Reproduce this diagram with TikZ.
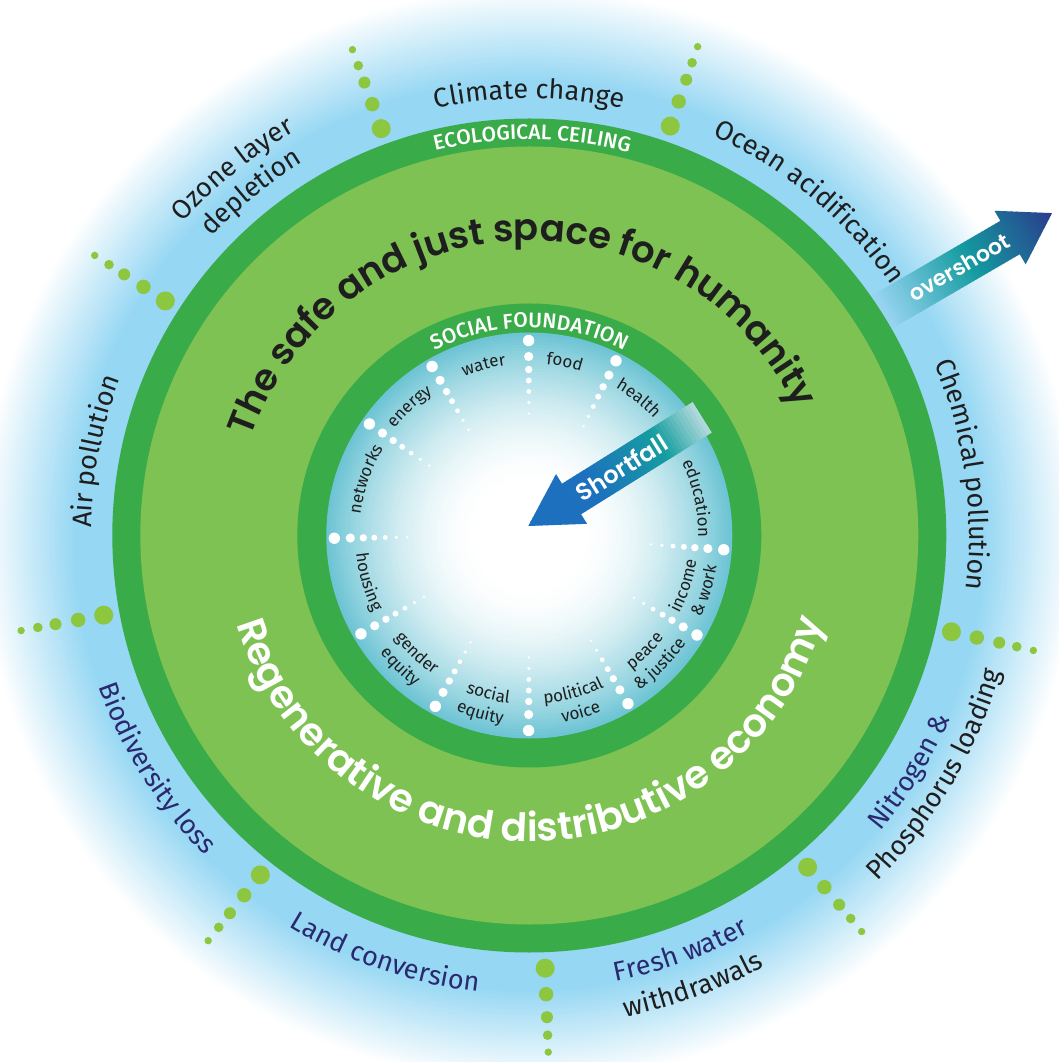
\documentclass[tikz,border=0pt]{standalone}
\usepackage{fontspec}
\setmainfont{Fira Sans}
\newfontfamily\pop{Poppins}[UprightFont=* SemiBold]
\newfontfamily\firam{Fira Sans}[UprightFont=* Medium]
\usetikzlibrary{decorations.text}
\definecolor{ringdark}{RGB}{58,171,73}
\definecolor{ringlight}{RGB}{125,194,82}
\definecolor{dotgreen}{RGB}{141,198,63}
\definecolor{glowc}{RGB}{150,215,243}
\definecolor{diskc}{RGB}{108,196,212}
\definecolor{navy}{RGB}{42,40,110}
\definecolor{txt}{RGB}{30,30,30}
\definecolor{oa}{RGB}{150,212,240}
\definecolor{ob}{RGB}{20,155,160}
\definecolor{oc}{RGB}{42,58,140}
\definecolor{sa}{RGB}{28,112,190}
\definecolor{sb}{RGB}{22,158,160}
\definecolor{sl}{RGB}{190,222,224}
\newcommand\lbl{\color{txt}\fontsize{27}{27}\selectfont}
\newcommand\lbln{\color{navy}\fontsize{27}{27}\selectfont}
\newcommand\ilbl{\color{txt}\fontsize{17}{17}\selectfont}
\newcommand\fsafe{\color{txt}\pop\fontsize{37}{37}\selectfont}
\newcommand\freg{\color{white}\pop\fontsize{39}{39}\selectfont}
\newcommand\fcap{\color{white}\firam\fontsize{21}{21}\selectfont}
% text on a clockwise arc (letters point outward)
\newcommand\cwtext[4]{%
  \path[decorate,decoration={text along path,text align=center,text={|#3|#4}}]
    ({#2+88}:#1) arc[start angle={#2+88},end angle={#2-88},radius=#1];}
% text on a counter-clockwise arc (letters point inward)
\newcommand\ccwtext[4]{%
  \path[decorate,decoration={text along path,text align=center,text={|#3|#4}}]
    ({#2-88}:#1) arc[start angle={#2-88},end angle={#2+88},radius=#1];}
\begin{document}
\begin{tikzpicture}[x=1pt,y=1pt]
\clip (-529.3,-526.5) rectangle (529.7,535.5);
\fill[white] (-529.3,-526.5) rectangle (529.7,535.5);
% blue glow
\foreach \r in {549,546,...,456}{%
  \pgfmathtruncatemacro\p{100*(549-\r)/93}%
  \fill[glowc!\p!white] (0,0) circle[radius=\r];}
\fill[glowc] (0,0) circle[radius=455];
% overshoot arrow
\begin{scope}[shift={(353.7,224)},rotate=30.2]
  \begin{scope}
    \clip (-15,-19.3) -- (147,-19.3) -- (147,-31) -- (195.6,0) -- (147,31) -- (147,19.3) -- (-15,19.3) -- cycle;
    \foreach \i in {0,...,53}{%
      \pgfmathsetmacro\xx{-15+4*\i}%
      \pgfmathsetmacro\t{max(0,min(1,\xx/195.6))}%
      \ifdim\t pt<0.5pt
        \pgfmathtruncatemacro\p{100*\t/0.5}\colorlet{stripc}{ob!\p!oa}%
      \else
        \pgfmathtruncatemacro\p{100*(\t-0.5)/0.5}\colorlet{stripc}{oc!\p!ob}%
      \fi
      \fill[stripc] (\xx,-35) rectangle ++(4.6,70);}
  \end{scope}
  \node[rotate=30.2,text=white,font=\pop\fontsize{22}{22}\selectfont] (over) at (88,0) {overshoot};
\end{scope}
% rings
\fill[ringdark] (0,0) circle[radius=417];
\fill[ringlight] (0,0) circle[radius=389];
\fill[ringdark] (0,0) circle[radius=232];
% inner disk
\foreach \r in {203,200,...,53}{%
  \pgfmathtruncatemacro\p{100*((\r-50)/153)^1.8}%
  \fill[diskc!\p!white] (0,0) circle[radius=\r];}
% white dot lines
\foreach \a in {90.2,63.6,-4.2,-30.7,-59.6,-90.2,-118.8,-149.7,180.8,145.1,119.9}{%
  \fill[white] (\a:195) circle[radius=5.7] (\a:179) circle[radius=4.6]
    (\a:166) circle[radius=3.7] (\a:155) circle[radius=3] (\a:144) circle[radius=2.4]
    (\a:133) circle[radius=1.8] (\a:122) circle[radius=1.3];}
% green dot lines
\foreach \a in {110,71,147.2,-169.4,-128.4,-87.9,-50,-12.85}{%
  \fill[dotgreen] (\a:433) circle[radius=9.5] (\a:459) circle[radius=7.2]
    (\a:482) circle[radius=6] (\a:500) circle[radius=4.8] (\a:517) circle[radius=3.7];}
% shortfall arrow
\begin{scope}[shift={(-1,9.5)},rotate=32]
  \begin{scope}
    \clip (0,0) -- (51,29.3) -- (51,18) -- (205,18) -- (205,-18) -- (51,-18) -- (51,-29.3) -- cycle;
    \foreach \i in {0,...,52}{%
      \pgfmathsetmacro\xx{4*\i}%
      \pgfmathsetmacro\t{max(0,min(1,\xx/205))}%
      \ifdim\t pt<0.35pt
        \colorlet{stripc}{sa}%
      \else\ifdim\t pt<0.75pt
        \pgfmathtruncatemacro\p{100*(\t-0.35)/0.4}\colorlet{stripc}{sb!\p!sa}%
      \else
        \pgfmathtruncatemacro\p{100*(\t-0.75)/0.25}\colorlet{stripc}{sl!\p!sb}%
      \fi\fi
      \fill[stripc] (\xx,-35) rectangle ++(4.6,70);}
  \end{scope}
  \node[rotate=32,text=white,font=\pop\fontsize{24}{24}\selectfont] (short) at (110,0) {Shortfall};
\end{scope}
% ring titles
\cwtext{396}{89.6}{\fcap}{ECOLOGICAL CEILING}
\cwtext{208}{90}{\fcap}{SOCIAL FOUNDATION}
\cwtext{295}{93}{\fsafe}{The safe and just space for humanity}
\ccwtext{306}{-89.7}{\freg}{Regenerative and distributive economy}
% planetary boundaries
\cwtext{437}{90}{\lbl}{Climate change}
\cwtext{440}{50}{\lbl}{Ocean acidification}
\cwtext{440}{8}{\lbl}{Chemical pollution}
\cwtext{438}{169}{\lbl}{Air pollution}
\cwtext{467}{129}{\lbl}{Ozone layer}
\cwtext{436}{129}{\lbl}{depletion}
\ccwtext{456}{-148}{\lbln}{Biodiversity loss}
\ccwtext{459}{-109}{\lbln}{Land conversion}
\ccwtext{454}{-70}{\lbln}{Fresh water}
\ccwtext{491}{-70}{\lbl}{withdrawals}
\ccwtext{459}{-31.8}{\lbln}{Nitrogen {\&}}
\ccwtext{491}{-30.5}{\lbl}{Phosphorus loading}
% social foundation
\cwtext{172}{105}{\ilbl}{water}
\cwtext{172}{78.4}{\ilbl}{food}
\cwtext{171}{51.4}{\ilbl}{health}
\cwtext{169}{12.5}{\ilbl}{education}
\cwtext{172}{132.9}{\ilbl}{energy}
\cwtext{170}{161}{\ilbl}{networks}
\ccwtext{174}{-164}{\ilbl}{housing}
\ccwtext{169}{-18}{\ilbl}{income}
\ccwtext{190}{-17.5}{\ilbl}{{\&} work}
\ccwtext{169}{-45}{\ilbl}{peace}
\ccwtext{190}{-44.5}{\ilbl}{{\&} justice}
\ccwtext{169}{-74.3}{\ilbl}{political}
\ccwtext{190}{-73.8}{\ilbl}{voice}
\ccwtext{169}{-104.5}{\ilbl}{social}
\ccwtext{190}{-105.4}{\ilbl}{equity}
\ccwtext{169}{-133.7}{\ilbl}{gender}
\ccwtext{190}{-134.5}{\ilbl}{equity}
\end{tikzpicture}
\end{document}
